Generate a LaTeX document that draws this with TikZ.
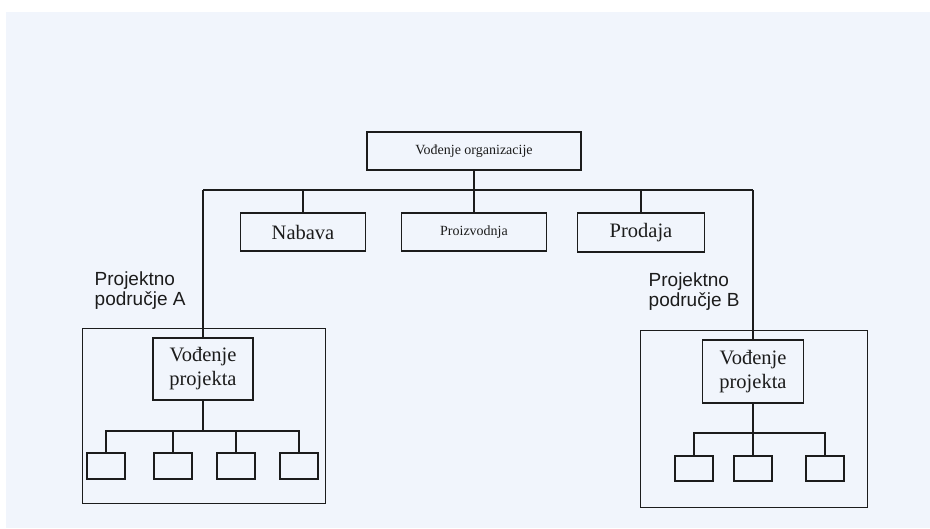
\documentclass[tikz,border=0pt]{standalone}
\usepackage{fontspec}
\setmainfont{Liberation Serif}
\setsansfont{Liberation Sans}
\usetikzlibrary{positioning}
\definecolor{scan}{HTML}{F1F5FC}
\definecolor{ink}{HTML}{1C1C1C}
\tikzstyle{block}=[draw=ink, fill=none, rectangle, inner sep=0pt, align=center, line width=1.4pt]
\tikzstyle{unit}=[block, font=\fontsize{20.5}{24}\selectfont]
\tikzstyle{smallunit}=[block, font=\fontsize{14}{16}\selectfont]
\tikzstyle{area}=[block, anchor=north west]
\tikzstyle{leaf}=[block, minimum width=38pt, minimum height=26pt]
\tikzstyle{areatag}=[anchor=north west, inner sep=0pt, align=left, font=\sffamily\fontsize{19}{20}\selectfont]

\begin{document}
\begin{tikzpicture}[x=1pt, y=-1pt, line width=1.4pt, draw=ink, text=ink]
                        % scanned page
                        \fill[white] (0,0) rectangle (930,528);
                        \fill[scan] (6,12) rectangle (930,528);
                        \useasboundingbox (0,0) rectangle (930,528);
                        % top of the tree
                        \node [smallunit, minimum width=214pt, minimum height=38pt] (org) at (474,151) {Vođenje organizacije};
                        \node [unit, minimum width=125pt, minimum height=38pt] (nab) at (303,232) {Nabava};
                        \node [smallunit, minimum width=145pt, minimum height=38pt] (proiz) at (474,232) {Proizvodnja};
                        \node [unit, minimum width=127pt, minimum height=39pt] (prod) at (641,232.5) {Prodaja};
                        \coordinate (busL) at (203,190);
                        \coordinate (busR) at (753,190);
                        % project areas
                        \node [area, minimum width=243pt, minimum height=175pt] (podA) at (82,328) {};
                        \node [area, minimum width=227pt, minimum height=177pt] (podB) at (640,330) {};
                        \node [areatag] (tagA) at (94,271) {Projektno\\područje A};
                        \node [areatag] (tagB) at (648,272) {Projektno\\područje B};
                        \node [unit, minimum width=100pt, minimum height=62pt] (vpA) at (203,369) {Vođenje\\projekta};
                        \node [unit, minimum width=101pt, minimum height=63pt] (vpB) at (753,371.5) {Vođenje\\projekta};
                        \coordinate (busA) at (203,431);
                        \coordinate (busB) at (753,433);
                        \foreach \i/\x in {1/106,2/173,3/236,4/299}
                            \node [leaf] (a\i) at (\x,466) {};
                        \foreach \i/\x in {1/694,2/753,3/825}
                            \node [leaf, minimum height=25pt] (b\i) at (\x,468.5) {};
                        % connectors
                        \draw (busL) -- (busR);
                        \draw (org) -- (proiz);
                        \draw (nab.north) -- (nab.north |- busL);
                        \draw (prod.north) -- (prod.north |- busL);
                        \draw (busL) -- (vpA.north);
                        \draw (busR) -- (vpB.north);
                        \draw (vpA) -- (vpA |- busA);
                        \draw (a1.north) |- (busA) -| (a4.north);
                        \foreach \i in {2,3}
                            \draw (a\i.north) -- (a\i.north |- busA);
                        \draw (vpB) -- (b2);
                        \draw (b1.north) |- (busB) -| (b3.north);
                    \end{tikzpicture}
\end{document}
